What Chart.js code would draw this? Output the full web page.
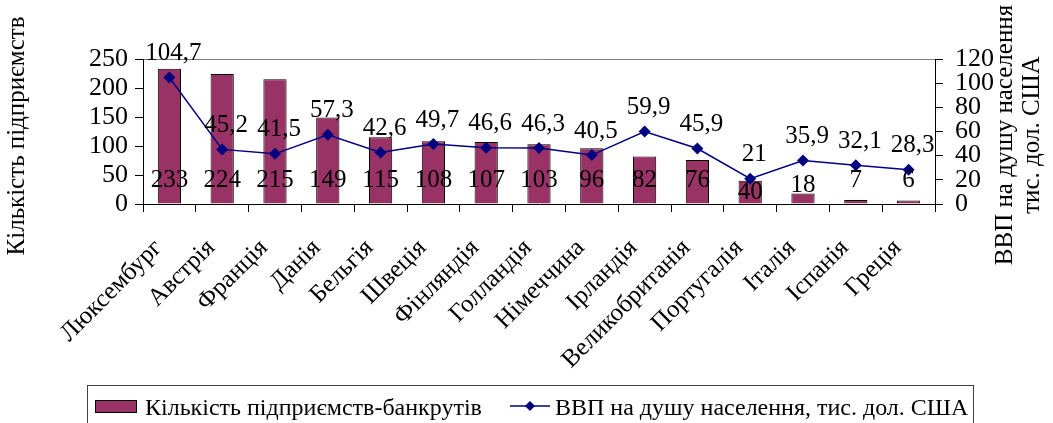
<!DOCTYPE html>
<html lang="uk">
<head>
<meta charset="utf-8">
<title>Кількість підприємств-банкрутів та ВВП на душу населення</title>
<script src="https://cdn.jsdelivr.net/npm/chart.js@4/dist/chart.umd.min.js"></script>
<style>
    html, body { margin: 0; padding: 0; background: #fff; }
    #wrap { width: 1053px; height: 423px; }
</style>
</head>
<body>
<div id="wrap"><canvas id="bankrupt-chart" width="1053" height="423"></canvas></div>
<script>
var countries = ['Люксембург', 'Австрія', 'Франція', 'Данія', 'Бельгія', 'Швеція', 'Фінляндія',
    'Голландія', 'Німеччина', 'Ірландія', 'Великобританія', 'Португалія', 'Італія', 'Іспанія', 'Греція'];
var bankrupts = [233, 224, 215, 149, 115, 108, 107, 103, 96, 82, 76, 40, 18, 7, 6];
var gdpPerCapita = [104.7, 45.2, 41.5, 57.3, 42.6, 49.7, 46.6, 46.3, 40.5, 59.9, 45.9, 21, 35.9, 32.1, 28.3];
var leftTicks = [0, 50, 100, 150, 200, 250];
var rightTicks = [0, 20, 40, 60, 80, 100, 120];
var barLabel = 'Кількість підприємств-банкрутів';
var lineLabel = 'ВВП на душу населення, тис. дол. США';
var leftTitle = 'Кількість підприємств';
var rightTitle = ['ВВП на душу населення', 'тис. дол. США'];

(function () {
    'use strict';

    var FONT = '"Liberation Serif", "Times New Roman", serif';
    var BAR_COLOR = '#993366';
    var LINE_COLOR = '#000080';

    Chart.defaults.font.family = FONT;
    Chart.defaults.font.size = 26;
    Chart.defaults.color = '#000';

    function fmt(v) { return String(v).replace('.', ','); }

    function diamond(ctx, x, y, r) {
        ctx.beginPath();
        ctx.moveTo(x, y - r); ctx.lineTo(x + r, y); ctx.lineTo(x, y + r); ctx.lineTo(x - r, y);
        ctx.closePath();
        ctx.fill();
    }

    // labels, rotated titles and the boxed legend
    var decor = {
        id: 'decor',
        afterDatasetsDraw: function (chart) {
            var ctx = chart.ctx;
            var base = chart.scales.yL.getPixelForValue(0);
            var lowered = { 11: 12, 12: 5 };
            ctx.save();
            ctx.font = '25px ' + FONT;
            ctx.fillStyle = '#000';
            ctx.textAlign = 'center';
            ctx.textBaseline = 'middle';
            chart.getDatasetMeta(0).data.forEach(function (bar, i) {
                ctx.fillText(fmt(bankrupts[i]), bar.x, base - 24 + (lowered[i] || 0));
            });
            chart.getDatasetMeta(1).data.forEach(function (pt, i) {
                ctx.fillText(fmt(gdpPerCapita[i]), pt.x + 4, pt.y - 24);
            });
            ctx.restore();
        },
        afterDraw: function (chart) {
            var ctx = chart.ctx;
            var xs = chart.scales.x;
            ctx.save();
            ctx.fillStyle = '#000';

            // rotated category labels
            ctx.font = '25px ' + FONT;
            ctx.textAlign = 'right';
            ctx.textBaseline = 'middle';
            countries.forEach(function (name, i) {
                ctx.save();
                ctx.translate(xs.getPixelForTick(i) - 11, xs.top + 40);
                ctx.rotate(-Math.PI / 4);
                ctx.fillText(name, 0, 0);
                ctx.restore();
            });

            ctx.textAlign = 'center';
            ctx.save();
            ctx.translate(17, 136);
            ctx.rotate(-Math.PI / 2);
            ctx.fillText(leftTitle, 0, 0);
            ctx.restore();

            ctx.save();
            ctx.translate(1005, 135);
            ctx.rotate(-Math.PI / 2);
            ctx.fillText(rightTitle[0], 0, 0);
            ctx.fillText(rightTitle[1], 0, 27);
            ctx.restore();

            // legend
            ctx.strokeStyle = '#404040';
            ctx.lineWidth = 1;
            ctx.strokeRect(87.5, 385.5, 886, 60);
            ctx.fillStyle = BAR_COLOR;
            ctx.fillRect(95, 400, 42, 13);
            ctx.strokeStyle = '#000';
            ctx.strokeRect(95.5, 400.5, 41, 12);
            ctx.strokeStyle = LINE_COLOR;
            ctx.lineWidth = 1.5;
            ctx.beginPath();
            ctx.moveTo(510, 406); ctx.lineTo(550, 406);
            ctx.stroke();
            ctx.fillStyle = LINE_COLOR;
            diamond(ctx, 530, 406, 5);
            ctx.fillStyle = '#000';
            ctx.font = '24px ' + FONT;
            ctx.textAlign = 'left';
            ctx.textBaseline = 'alphabetic';
            ctx.fillText(barLabel, 145, 415);
            ctx.fillText(lineLabel, 555, 415);
            ctx.restore();
        }
    };

    var el = document.getElementById('bankrupt-chart');
    new Chart(el, {
        type: 'bar',
        data: {
            labels: countries,
            datasets: [{
                type: 'bar', label: barLabel, data: bankrupts, yAxisID: 'yL', order: 1,
                backgroundColor: BAR_COLOR, borderColor: '#000', borderWidth: 1,
                barPercentage: 0.44, categoryPercentage: 1
            }, {
                type: 'line', label: lineLabel, data: gdpPerCapita, yAxisID: 'yR', order: 0,
                borderColor: LINE_COLOR, backgroundColor: LINE_COLOR, borderWidth: 1.5, tension: 0,
                pointStyle: 'rectRot', pointRadius: 6, pointBorderWidth: 0,
                pointBackgroundColor: LINE_COLOR, pointBorderColor: LINE_COLOR
            }]
        },
        options: {
            responsive: false,
            animation: false,
            layout: { padding: { top: 59, left: 0, right: 0, bottom: 0 } },
            plugins: { legend: { display: false }, tooltip: { enabled: false } },
            scales: {
                x: {
                    grid: { offset: true, drawOnChartArea: false, color: '#000', tickLength: 8 },
                    border: { color: '#000' },
                    ticks: { display: false, autoSkip: false },
                    afterFit: function (s) { s.height = 219; }
                },
                yL: {
                    position: 'left', min: 0, max: 250,
                    afterBuildTicks: function (s) { s.ticks = leftTicks.map(function (v) { return { value: v }; }); },
                    grid: {
                        color: function (c) { return c.tick && c.tick.value === 250 ? '#808080' : 'rgba(0,0,0,0)'; },
                        tickColor: '#000', tickLength: 8
                    },
                    border: { color: '#000' },
                    ticks: { padding: 7, autoSkip: false },
                    afterFit: function (s) { s.width = 143; }
                },
                yR: {
                    position: 'right', min: 0, max: 120,
                    afterBuildTicks: function (s) { s.ticks = rightTicks.map(function (v) { return { value: v }; }); },
                    grid: { drawOnChartArea: false, color: '#000', tickLength: 8 },
                    border: { color: '#000' },
                    ticks: { padding: 12, autoSkip: false },
                    afterFit: function (s) { s.width = 118; }
                }
            }
        },
        plugins: [decor]
    });
})();
</script>
</body>
</html>
